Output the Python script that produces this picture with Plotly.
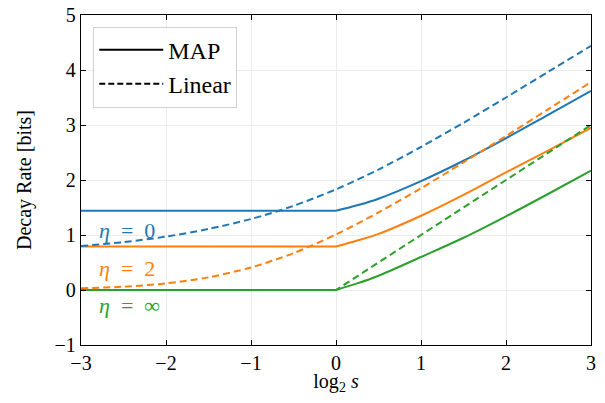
import plotly.graph_objects as go

# ---- data ----
x_flat = [-3.0, 0.0]
x_map = [0.0, 0.25, 0.5, 1.0, 1.5, 2.0, 2.5, 3.0]
map_eta0 = [1.44, 1.54, 1.66, 1.98, 2.35, 2.76, 3.19, 3.62]
map_eta2 = [0.79, 0.90, 1.02, 1.35, 1.73, 2.14, 2.54, 2.95]
map_etainf = [0.0, 0.12, 0.26, 0.60, 0.95, 1.34, 1.75, 2.17]

x_lin = [-3.0, -2.5, -2.0, -1.5, -1.0, -0.5, 0.0, 0.5, 1.0, 1.5, 2.0, 2.5, 3.0]
lin_eta0 = [0.80, 0.87, 0.97, 1.11, 1.29, 1.53, 1.83, 2.19, 2.60, 3.04, 3.50, 3.97, 4.44]
lin_eta2 = [0.03, 0.06, 0.12, 0.23, 0.41, 0.67, 1.01, 1.41, 1.85, 2.32, 2.80, 3.29, 3.78]

x_lin_inf = [-3.0, 0.0, 3.0]
lin_etainf = [0.0, 0.0, 3.0]

labels = ["<i>η</i>\u2002=\u20020", "<i>η</i>\u2002=\u20022", "<i>η</i>\u2002=\u2002∞"]
label_x = [-2.81, -2.81, -2.81]
label_y = [1.09, 0.40, -0.28]

colors = ["#1f77b4", "#ff7f0e", "#2ca02c"]
FONT = "Liberation Serif"
DASH = "7px,4px"

fig = go.Figure()

map_series = [map_eta0, map_eta2, map_etainf]
lin_series = [(x_lin, lin_eta0, "spline"), (x_lin, lin_eta2, "spline"), (x_lin_inf, lin_etainf, "linear")]

for c, ys in zip(colors, map_series):
    # flat part (value below threshold equals the value at log2 s = 0)
    fig.add_trace(go.Scatter(x=x_flat, y=[ys[0], ys[0]], mode="lines", showlegend=False,
                             line=dict(color=c, width=2)))
    fig.add_trace(go.Scatter(x=x_map, y=ys, mode="lines", showlegend=False,
                             line=dict(color=c, width=2, shape="spline", smoothing=1.0)))
for c, (xs, ys, shp) in zip(colors, lin_series):
    ln = dict(color=c, width=2, dash=DASH, shape=shp)
    if shp == "spline":
        ln["smoothing"] = 0.8
    fig.add_trace(go.Scatter(x=xs, y=ys, mode="lines", showlegend=False, line=ln))

# legend entries
fig.add_trace(go.Scatter(x=[None], y=[None], mode="lines", name="MAP",
                         line=dict(color="black", width=2)))
fig.add_trace(go.Scatter(x=[None], y=[None], mode="lines", name="Linear",
                         line=dict(color="black", width=2, dash="6px,3px")))

for t, lx, ly, c in zip(labels, label_x, label_y, colors):
    fig.add_annotation(x=lx, y=ly, text=t, showarrow=False, xanchor="left",
                       yanchor="middle", font=dict(family=FONT, size=22, color=c))

axis_common = dict(
    showline=True, linecolor="black", linewidth=1.3, mirror="ticks",
    ticks="inside", ticklen=5, tickwidth=1, tickcolor="black",
    showgrid=True, gridcolor="#ebebeb", gridwidth=1, zeroline=False,
    tickfont=dict(family=FONT, size=20, color="black"),
    ticklabeloverflow="allow",
)

fig.update_xaxes(range=[-3, 3], tickvals=[-3, -2, -1, 0, 1, 2, 3],
                 title=dict(text="log<sub>2</sub> <i>s</i>", font=dict(family=FONT, size=20, color="black"),
                            standoff=8),
                 **axis_common)
fig.update_yaxes(range=[-1, 5], tickvals=[-1, 0, 1, 2, 3, 4, 5],
                 title=dict(text="Decay Rate [bits]", font=dict(family=FONT, size=20, color="black"),
                            standoff=17),
                 **axis_common)

fig.update_layout(
    width=589, height=387,
    margin=dict(l=73, r=6, t=7, b=50, autoexpand=False),
    plot_bgcolor="white", paper_bgcolor="white",
    font=dict(family=FONT, size=20, color="black"),
    legend=dict(x=0.024, y=0.965, xanchor="left", yanchor="top",
                bgcolor="rgba(255,255,255,0.9)", bordercolor="#d0d0d0", borderwidth=1,
                font=dict(family=FONT, size=24, color="black"),
                itemwidth=64, tracegroupgap=0),
)

fig.write_html("out.html")
